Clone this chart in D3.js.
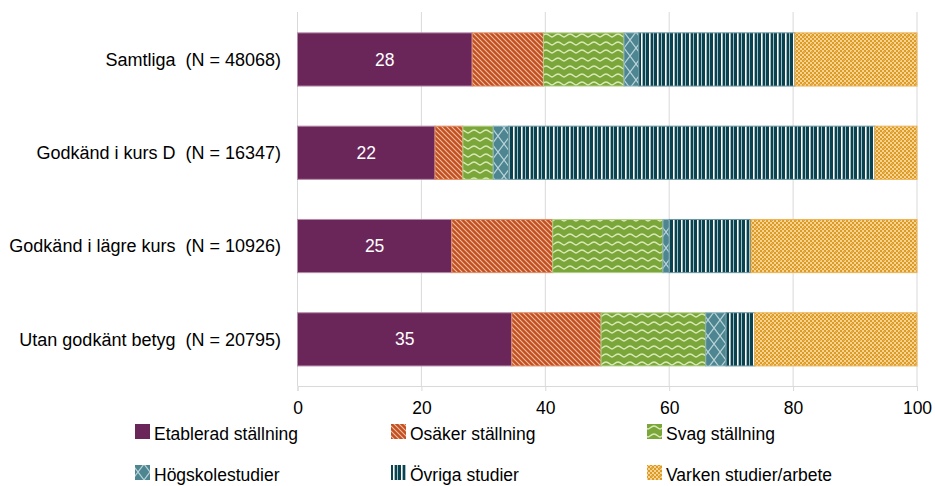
<!DOCTYPE html>
<html><head><meta charset="utf-8">
<script src="https://cdn.jsdelivr.net/npm/d3@7"></script>
<style>body{margin:0;background:#fff;} text{font-family:"Liberation Sans",Arial,sans-serif;}</style>
</head><body>
<svg id="c" width="935" height="486"></svg>
<script>
const categories = ["Samtliga  (N = 48068)", "Godkänd i kurs D  (N = 16347)", "Godkänd i lägre kurs  (N = 10926)", "Utan godkänt betyg  (N = 20795)"];
const seriesNames = ["Etablerad ställning", "Osäker ställning", "Svag ställning", "Högskolestudier", "Övriga studier", "Varken studier/arbete"];
const etablerad = [28.2, 22.2, 24.9, 34.6];
const osaker = [11.5, 4.5, 16.3, 14.4];
const svag = [13.0, 4.9, 17.8, 16.9];
const hogskola = [2.4, 2.5, 1.0, 3.3];
const ovriga = [25.2, 59.1, 13.2, 4.6];
const varken = [19.7, 6.8, 26.8, 26.2];
const labels = ["28", "22", "25", "35"];
const xTicks = [0, 20, 40, 60, 80, 100];

const seriesVals = [etablerad, osaker, svag, hogskola, ovriga, varken];
const baseColors = ["#6a2659", "#c4501f", "#7ba63a", "#4d8590", "#0a4250", "#df9a22"];

const svg = d3.select("#c");
const defs = svg.append("defs");

function pat(id, w, h, bg, draw) {
  const p = defs.append("pattern").attr("id", id).attr("patternUnits", "userSpaceOnUse").attr("width", w).attr("height", h);
  p.append("rect").attr("width", w).attr("height", h).attr("fill", bg);
  draw(p);
}
pat("p1", 5, 5, baseColors[1], p => {
  p.append("path").attr("d", "M-1,-1 L6,6 M-3.5,1.5 L1.5,6.5 M3.5,-1.5 L8.5,3.5").attr("stroke", "#f0c0a8").attr("stroke-width", 1.1);
});
pat("p2", 12, 8, baseColors[2], p => {
  p.append("path").attr("d", "M0,5 C2,5 3,2 6,2 C9,2 10,5 12,5").attr("fill", "none").attr("stroke", "#d9eab8").attr("stroke-width", 1.4);
});
pat("p3", 12, 16, baseColors[3], p => {
  p.append("path").attr("d", "M0,0 L12,16 M12,0 L0,16").attr("stroke", "#b9d4da").attr("stroke-width", 1.2);
});
pat("p4", 8, 8, baseColors[4], p => {
  p.append("rect").attr("x", 1).attr("y", 0).attr("width", 1.6).attr("height", 8).attr("fill", "#ffffff");
  p.append("rect").attr("x", 5).attr("y", 0).attr("width", 1).attr("height", 8).attr("fill", "#9fc0c6");
});
pat("p5", 8, 8, baseColors[5], p => {
  p.append("path").attr("d", "M0,0h2v2h-2z M4,0h2v2h-2z M2,2h2v2h-2z M6,2h2v2h-2z M0,4h2v2h-2z M4,4h2v2h-2z M2,6h2v2h-2z M6,6h2v2h-2z").attr("fill", "#f4dba6").attr("opacity", 0.9);
  p.append("rect").attr("x", 3).attr("y", 3).attr("width", 2).attr("height", 2).attr("fill", "#e6a838");
});
const fills = ["#6a2659", "url(#p1)", "url(#p2)", "url(#p3)", "url(#p4)", "url(#p5)"];
const strokes = ["#b48aa8", "#e08c64", "#b2cf88", "#8ab3bc", "#6a959e", "#ecb45a"];

const x = d3.scaleLinear().domain([0, 100]).range([297.5, 917]);
const y = d3.scaleBand().domain(categories).range([12.8, 386]).paddingInner(0.43).paddingOuter(0.215);

svg.append("g").selectAll("line").data(xTicks).join("line")
  .attr("x1", d => x(d)).attr("x2", d => x(d)).attr("y1", 12).attr("y2", 386)
  .attr("stroke", "#d9d9d9").attr("stroke-width", 1);

const xAxis = svg.append("g").attr("transform", "translate(0,386)")
  .call(d3.axisBottom(x).tickValues(xTicks).tickSize(5).tickPadding(10.5));
xAxis.select(".domain").attr("stroke", "#d9d9d9");
xAxis.selectAll(".tick line").attr("stroke", "#d9d9d9");
xAxis.selectAll("text").attr("font-size", 17.5).attr("fill", "#000").attr("font-family", "Liberation Sans, Arial, sans-serif");

const rows = categories.map((c, i) => {
  let acc = 0;
  return seriesVals.map((s, j) => { const r = {cat: c, j, x0: acc, x1: acc + s[i]}; acc += s[i]; return r; });
});
const g = svg.append("g");
rows.forEach(segs => {
  g.selectAll(null).data(segs).join("rect")
    .attr("x", d => x(d.x0)).attr("width", d => x(d.x1) - x(d.x0))
    .attr("y", d => y(d.cat)).attr("height", y.bandwidth())
    .attr("fill", d => fills[d.j]).attr("stroke", d => strokes[d.j]).attr("stroke-width", 1);
});

svg.append("g").selectAll("text").data(categories).join("text")
  .attr("x", (c, i) => x(etablerad[i] / 2)).attr("y", c => y(c) + y.bandwidth() / 2)
  .attr("dy", "0.35em").attr("text-anchor", "middle").attr("fill", "#fff").attr("font-size", 17.5)
  .text((c, i) => labels[i]);

svg.append("g").selectAll("text").data(categories).join("text")
  .attr("x", 281).attr("y", c => y(c) + y.bandwidth() / 2)
  .attr("dy", "0.35em").attr("text-anchor", "end").attr("fill", "#000").attr("font-size", 18)
  .style("white-space", "pre").attr("xml:space", "preserve")
  .text(c => c);

const legX = [135, 391, 647];
const legY = [424, 465];
const leg = svg.append("g");
seriesNames.forEach((n, j) => {
  const lx = legX[j % 3], ly = legY[Math.floor(j / 3)];
  leg.append("rect").attr("x", lx).attr("y", ly).attr("width", 15).attr("height", 15).attr("fill", fills[j]);
  leg.append("text").attr("x", lx + 19).attr("y", ly + 16).attr("font-size", 17.5).attr("fill", "#000").text(n);
});
</script>
</body></html>
